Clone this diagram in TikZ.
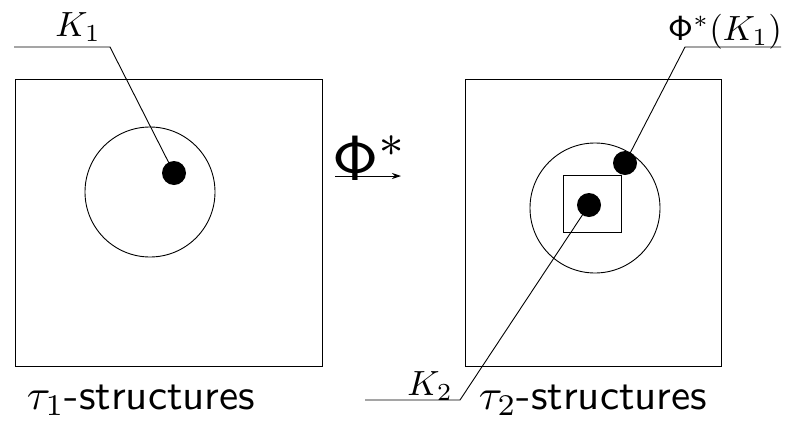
\documentclass[tikz,border=0pt]{standalone}
\usetikzlibrary{arrows.meta}
\begin{document}
\begin{tikzpicture}[x=1pt,y=-1pt,
  thin line/.style={line width=0.9pt, draw=black},
  dot/.style={circle, fill=black, inner sep=0pt, minimum size=24pt},
  lbl/.style={inner sep=0pt, anchor=base, scale=3.5},
  captext/.style={inner sep=0pt, anchor=base, scale=4.3}]
\useasboundingbox (0,0) rectangle (798,421);
% left panel
\draw[thin line] (15,79) rectangle (322,366);
\draw[thin line] (150,192) circle (65);
\node[dot] (d1) at (174,173) {};
\coordinate (k1a) at (14,47);
\coordinate (k1b) at (110,47);
\draw[thin line] (k1a) -- (k1b) -- (d1.center);
\node[lbl] (k1) at (78,36) {$K_1$};
\node[captext] (t1) at (141,409) {$\tau_1$\textsf{-structures}};
% middle
\node[inner sep=0pt, anchor=base, scale=6.4] (phi) at (370,180) {$\mathsf{\Phi}^*$};
\coordinate (ar1) at (335,176);
\coordinate (ar2) at (401,176);
\draw[thin line, -{Stealth[length=9pt,width=6pt]}] (ar1) -- (ar2);
% right panel
\draw[thin line] (465,79) rectangle (721,366);
\draw[thin line] (595,208) circle (65);
\draw[thin line] (563,175) rectangle (621,232);
\node[dot] (d2) at (625,163) {};
\node[dot] (d3) at (589,205) {};
\coordinate (k2a) at (685,47);
\coordinate (k2b) at (781,47);
\draw[thin line] (k2b) -- (k2a) -- (d2.center);
\node[lbl] (pk) at (725,40) {$\mathsf{\Phi}^*(K_1)$};
\coordinate (k3a) at (365,400);
\coordinate (k3b) at (460,400);
\draw[thin line] (k3a) -- (k3b) -- (d3.center);
\node[lbl] (k2) at (430,395) {$K_2$};
\node[captext] (t2) at (593,409) {$\tau_2$\textsf{-structures}};
\end{tikzpicture}
\end{document}
